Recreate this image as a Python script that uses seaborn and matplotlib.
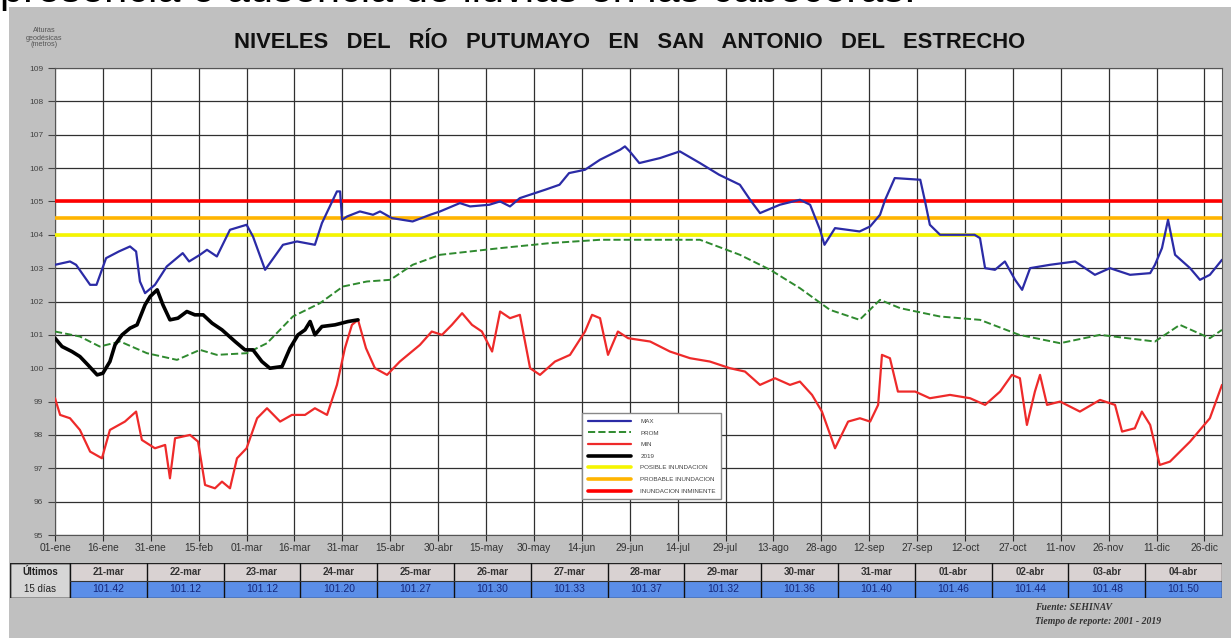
import numpy as np
import pandas as pd
import matplotlib
matplotlib.use("Agg")
import matplotlib.pyplot as plt
from matplotlib.patches import Rectangle
import seaborn as sns

# ---- data (day of year, level in m) ----
max_days = [0, 4.7, 6.6, 11, 13, 16, 20, 23.5, 25.4, 26.6, 28.2, 31.3, 35, 40, 42, 45.4, 47.6, 50.7, 54.8, 60, 62,
            65.8, 71.4, 75.8, 81.4, 83.6, 88.3, 89.3, 89.9, 91.5, 95.5, 99.6, 101.8, 105.5, 112, 117.5, 120.6, 126.8,
            130, 136, 139.4, 142.5, 145.6, 153.5, 158, 161, 166, 170.7, 177, 178.5, 180, 183, 189.5, 195.7, 202, 208,
            214.5, 217.7, 220.8, 227, 233.3, 236.5, 239.6, 241, 244.3, 252, 255.3, 258.4, 260, 263, 271, 272.5, 274,
            277.2, 288, 289.7, 291.3, 294.4, 297.5, 300.7, 302.9, 305.4, 311.6, 319.5, 325.7, 330.4, 336.7, 343,
            344.5, 346.7, 348.6, 350.8, 355.5, 358.6, 361.7, 365.5]
max_vals = [103.1, 103.2, 103.1, 102.5, 102.5, 103.3, 103.5, 103.65, 103.5, 102.6, 102.25, 102.5, 103.05, 103.45,
            103.2, 103.4, 103.55, 103.35, 104.15, 104.3, 103.95, 102.95, 103.7, 103.8, 103.7, 104.35, 105.3, 105.3,
            104.45, 104.55, 104.7, 104.6, 104.7, 104.5, 104.4, 104.6, 104.7, 104.95, 104.85, 104.9, 105.0, 104.85,
            105.1, 105.35, 105.5, 105.85, 105.95, 106.25, 106.55, 106.65, 106.5, 106.15, 106.3, 106.5, 106.15, 105.8,
            105.5, 105.05, 104.65, 104.9, 105.05, 104.9, 104.15, 103.7, 104.2, 104.1, 104.25, 104.6, 105.05, 105.7,
            105.65, 105.0, 104.3, 104.0, 104.0, 103.9, 103.0, 102.95, 103.2, 102.65, 102.35, 103.0, 103.1, 103.2,
            102.8, 103.0, 102.8, 102.85, 103.1, 103.6, 104.45, 103.4, 103.0, 102.65, 102.8, 103.25]

prom_days = [0, 7.8, 14, 20.4, 28.8, 38.2, 45.4, 50.7, 60, 66.4, 74.5, 83, 90.2, 97.7, 105, 112, 120.6, 139.4, 155,
             170.7, 202, 214.5, 224, 233.3, 242.7, 252, 258.4, 264.7, 277.2, 289.7, 302, 314.8, 327.3, 344.5, 352.3,
             361.7, 365.5]
prom_vals = [101.1, 100.95, 100.65, 100.8, 100.45, 100.25, 100.55, 100.4, 100.45, 100.75, 101.55, 101.95, 102.45,
             102.6, 102.65, 103.1, 103.4, 103.6, 103.75, 103.85, 103.85, 103.4, 102.95, 102.4, 101.75, 101.45, 102.05,
             101.8, 101.55, 101.45, 101.0, 100.75, 101.0, 100.8, 101.3, 100.9, 101.15]

min_days = [0, 1.6, 4.7, 7.8, 11, 14.7, 17.2, 21.9, 25.4, 27.2, 31.3, 34.5, 36, 37.6, 42.3, 44.8, 47, 50.1, 52.3,
            54.8, 57, 60, 63.3, 66.4, 70.5, 74.2, 78.3, 81.4, 85.2, 88.3, 90.8, 93, 94.9, 97.4, 100.2, 104, 108,
            114.3, 118, 121.2, 124.3, 127.5, 130.6, 133.7, 136.9, 139.4, 142.5, 145.6, 148.8, 151.9, 156.6, 161.3,
            166, 168.2, 170.7, 173.2, 176.3, 179.5, 186.4, 192.6, 198.9, 205.1, 211.4, 216.1, 220.8, 225.5, 230.2,
            233.3, 237.1, 240.2, 244.3, 248.4, 252.1, 255.3, 257.8, 259, 261.5, 264, 269.4, 274, 280.3, 286.6, 291.3,
            296, 299.7, 302.2, 304.4, 306.9, 308.5, 310.7, 314.8, 321, 327.3, 332, 334.2, 338.2, 340.4, 343, 346,
            349.2, 355.5, 361.7, 365.5]
min_vals = [99.1, 98.6, 98.5, 98.15, 97.5, 97.3, 98.15, 98.4, 98.7, 97.85, 97.6, 97.7, 96.7, 97.9, 98.0, 97.8, 96.5,
            96.4, 96.6, 96.4, 97.3, 97.6, 98.5, 98.8, 98.4, 98.6, 98.6, 98.8, 98.6, 99.5, 100.6, 101.3, 101.45, 100.6,
            100.0, 99.8, 100.2, 100.7, 101.1, 101.0, 101.3, 101.65, 101.3, 101.1, 100.5, 101.7, 101.5, 101.6, 100.0,
            99.8, 100.2, 100.4, 101.1, 101.6, 101.5, 100.4, 101.1, 100.9, 100.8, 100.5, 100.3, 100.2, 100.0, 99.9,
            99.5, 99.7, 99.5, 99.6, 99.2, 98.7, 97.6, 98.4, 98.5, 98.4, 98.9, 100.4, 100.3, 99.3, 99.3, 99.1, 99.2,
            99.1, 98.9, 99.3, 99.8, 99.7, 98.3, 99.3, 99.8, 98.9, 99.0, 98.7, 99.05, 98.9, 98.1, 98.2, 98.7, 98.3,
            97.1, 97.2, 97.8, 98.5, 99.5]

y2019_days = [0, 2.2, 5.3, 7.8, 10.3, 13.2, 15, 17.2, 18.8, 21, 23.5, 25.7, 28.2, 29.8, 32, 33.8, 36, 38.5, 41.3,
              43.8, 46.4, 49.2, 52.3, 56.4, 59.5, 62, 64.8, 67.3, 71.1, 73.6, 76.1, 78.3, 79.9, 81.4, 83.6, 87.7,
              91.8, 94.9]
y2019_vals = [100.9, 100.65, 100.5, 100.35, 100.1, 99.8, 99.85, 100.2, 100.7, 101.0, 101.2, 101.3, 101.9, 102.15,
              102.35, 101.9, 101.45, 101.5, 101.7, 101.6, 101.6, 101.35, 101.15, 100.8, 100.55, 100.55, 100.2, 100.0,
              100.05, 100.6, 101.0, 101.15, 101.4, 101.0, 101.25, 101.3, 101.4, 101.45]

alert_levels = [104.0, 104.5, 105.0]
alert_names = ["POSIBLE INUNDACION", "PROBABLE INUNDACION", "INUNDACION INMINENTE"]
alert_colors = ["#f5f500", "#ffb400", "#ff0000"]

tick_labels = ["01-ene", "16-ene", "31-ene", "15-feb", "01-mar", "16-mar", "31-mar", "15-abr", "30-abr", "15-may",
               "30-may", "14-jun", "29-jun", "14-jul", "29-jul", "13-ago", "28-ago", "12-sep", "27-sep", "12-oct",
               "27-oct", "11-nov", "26-nov", "11-dic", "26-dic"]

table_dates = ["21-mar", "22-mar", "23-mar", "24-mar", "25-mar", "26-mar", "27-mar", "28-mar", "29-mar", "30-mar",
               "31-mar", "01-abr", "02-abr", "03-abr", "04-abr"]
table_vals = ["101.42", "101.12", "101.12", "101.20", "101.27", "101.30", "101.33", "101.37", "101.32", "101.36",
              "101.40", "101.46", "101.44", "101.48", "101.50"]

sns.set_style("white")
plt.rcParams["font.family"] = ["Liberation Sans", "DejaVu Sans"]

W, H = 1231, 638
fig = plt.figure(figsize=(W / 100, H / 100), dpi=100, facecolor="white")

# grey panel behind everything + document line above it (cut by the page edge, as in the screenshot)
fig.patches.append(Rectangle((9 / W, 0), 1 - 9 / W, 1 - 7 / H, transform=fig.transFigure,
                             facecolor="#c0c0c0", edgecolor="none", zorder=-10))
fig.text(0.0, 1 - 2 / H, "presencia o ausencia de lluvias en las cabeceras.", fontsize=30,
         va="baseline", ha="left", color="black")

ax = fig.add_axes([55 / W, 1 - 535 / H, 1167 / W, 467 / H])
ax.set_facecolor("white")

series = [("MAX", max_days, max_vals, "#2b2ba6", 1.6, "-"),
          ("PROM", prom_days, prom_vals, "#2f8a2f", 1.4, "--"),
          ("MIN", min_days, min_vals, "#ee2a2a", 1.6, "-"),
          ("2019", y2019_days, y2019_vals, "black", 2.6, "-")]
for name, d, v, c, lw, ls in series:
    df = pd.DataFrame({"dia": d, "nivel": v})
    sns.lineplot(data=df, x="dia", y="nivel", ax=ax, color=c, lw=lw, linestyle=ls, label=name, zorder=4)

for lvl, nm, c in zip(alert_levels, alert_names, alert_colors):
    ax.axhline(lvl, color=c, lw=2.6, label=nm, zorder=3)

ax.set_xlim(0, 365.5)
ax.set_ylim(95, 109)
ax.set_yticks(range(95, 110))
ax.set_xticks(np.arange(len(tick_labels)) * 15)
ax.set_xticklabels(tick_labels, fontsize=7.4, color="#333333")
ax.tick_params(axis="y", labelsize=6, colors="#444444", length=5, direction="out", left=True)
ax.tick_params(axis="x", length=4, direction="out", bottom=True, pad=2)
ax.grid(True, color="#303030", lw=0.9)
ax.set_axisbelow(True)
ax.set_xlabel("")
ax.set_ylabel("")
for s in ax.spines.values():
    s.set_color("#555555")

# legend ordered like the reference
handles, labels = ax.get_legend_handles_labels()
order = ["MAX", "PROM", "MIN", "2019"] + alert_names
hmap = dict(zip(labels, handles))
leg = ax.legend([hmap[k] for k in order], order, loc="upper left", bbox_to_anchor=(0.449, 0.268),
                fontsize=4.5, handlelength=7, handletextpad=1.4, labelspacing=1.0, borderpad=0.9,
                frameon=True, fancybox=False, edgecolor="#888888", framealpha=1)
leg.set_zorder(6)
for t in leg.get_texts():
    t.set_color("#444444")

# titles
fig.text(630 / W, 1 - 43 / H, "NIVELES   DEL   RÍO   PUTUMAYO   EN   SAN   ANTONIO   DEL   ESTRECHO",
         fontsize=15.8, fontweight="bold", ha="center", va="center", color="#111111")
fig.text(44 / W, 1 - 38 / H, "Alturas\ngeodésicas\n(metros)", fontsize=5.2, ha="center", va="center",
         color="#555555", linespacing=1.0)

# table of last 15 days
tab = fig.add_axes([10 / W, 1 - 598 / H, 1212 / W, 35 / H])
tab.set_xlim(0, 1212)
tab.set_ylim(0, 2)
tab.axis("off")
first_w = 60
cw = (1212 - first_w) / len(table_dates)
tab.add_patch(Rectangle((0, 0), first_w, 2, facecolor="#d6d6d6", edgecolor="#222222", lw=1))
tab.text(first_w / 2, 1.5, "Últimos", ha="center", va="center", fontsize=7, color="#222222", fontweight="bold")
tab.text(first_w / 2, 0.5, "15 días", ha="center", va="center", fontsize=7, color="#222222")
for i, (dt, val) in enumerate(zip(table_dates, table_vals)):
    x0 = first_w + i * cw
    tab.add_patch(Rectangle((x0, 1), cw, 1, facecolor="#d9d2d2", edgecolor="none"))
    tab.add_patch(Rectangle((x0, 0), cw, 1, facecolor="#5b8ee8", edgecolor="none"))
    tab.plot([x0, x0], [0, 2], color="#111111", lw=1)
    tab.text(x0 + cw / 2, 1.5, dt, ha="center", va="center", fontsize=7, color="#333333", fontweight="bold")
    tab.text(x0 + cw / 2, 0.5, val, ha="center", va="center", fontsize=7.5, color="#14267a")
tab.plot([first_w, 1212], [1, 1], color="#333333", lw=0.8)
tab.add_patch(Rectangle((0, 0), 1212, 2, facecolor="none", edgecolor="#222222", lw=1))

# source
fig.text(1035 / W, 1 - 607 / H, "Fuente: SEHINAV", fontsize=7, family=["Liberation Serif", "DejaVu Serif"],
         style="italic", fontweight="bold", color="#333333", va="center")
fig.text(1035 / W, 1 - 621 / H, "Tiempo de reporte: 2001 - 2019", fontsize=7,
         family=["Liberation Serif", "DejaVu Serif"], style="italic", fontweight="bold", color="#333333",
         va="center")

fig.savefig("out.png", dpi=100, facecolor=fig.get_facecolor())
